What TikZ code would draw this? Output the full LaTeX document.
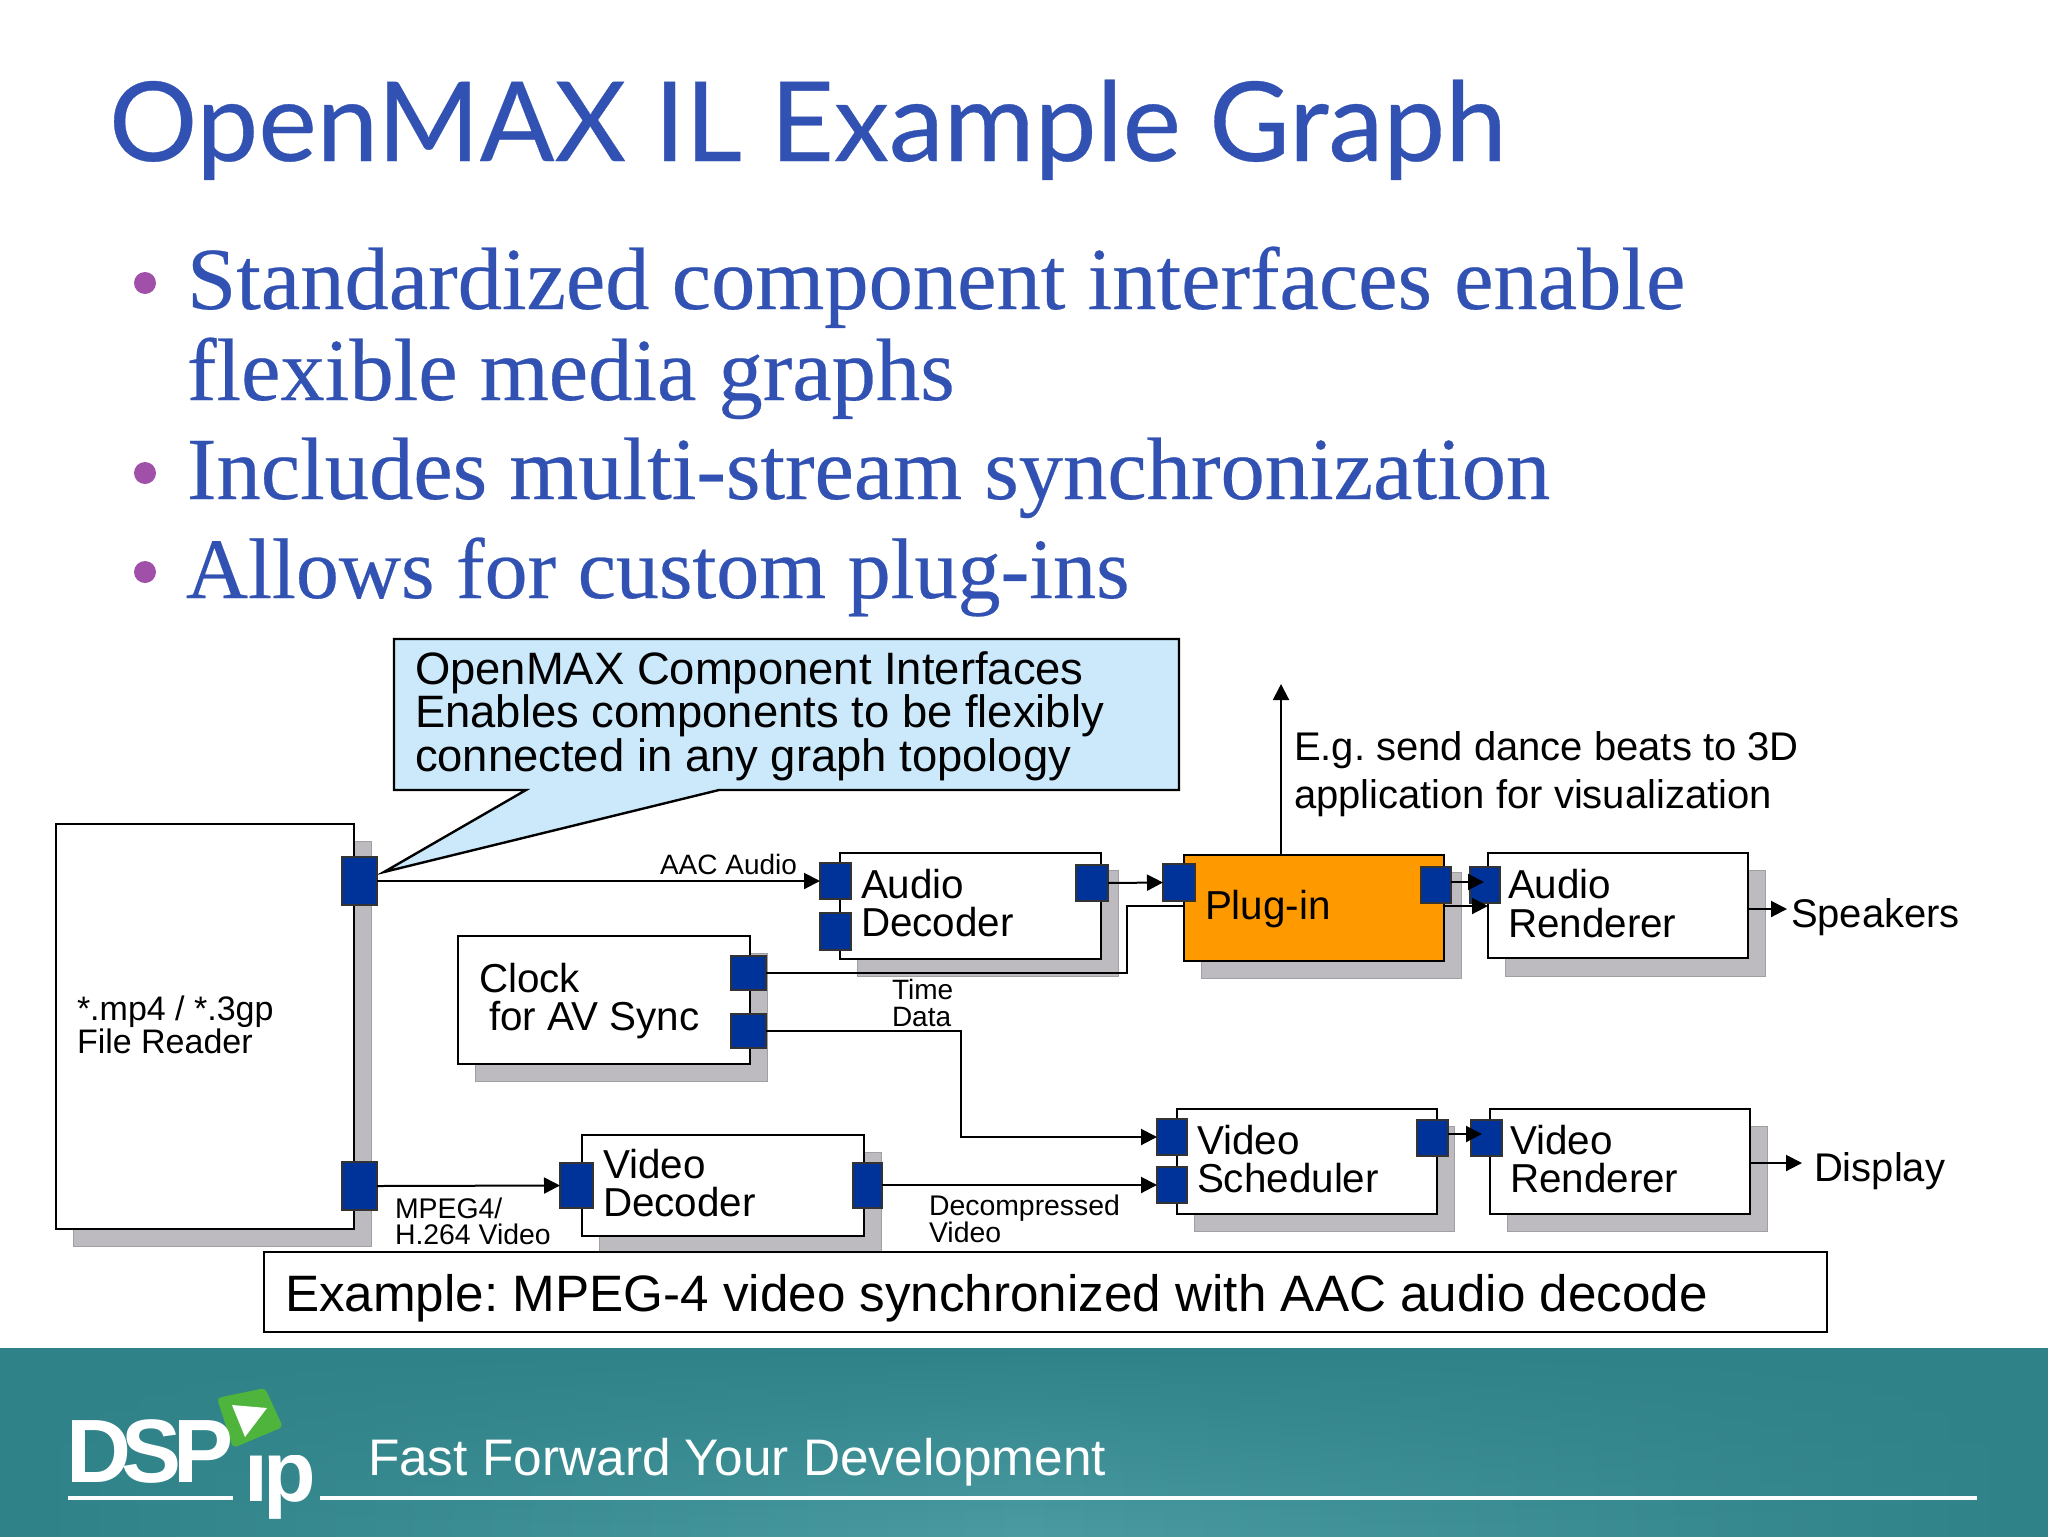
\documentclass[tikz,border=0pt]{standalone}
\usepackage{fontspec}
\usetikzlibrary{arrows.meta,fadings}
\setmainfont{Liberation Sans}
\newfontfamily\titlefont[FakeBold=0.3]{Lato}
\newfontfamily\bodyfont[FakeBold=0.3]{Liberation Serif}
\definecolor{titleblue}{HTML}{3152B2}
\definecolor{bulletpurple}{HTML}{A050A8}
\definecolor{shadowgray}{HTML}{BDBBBF}
\definecolor{portblue}{HTML}{003399}
\definecolor{plugorange}{HTML}{FF9900}
\definecolor{calloutblue}{HTML}{CCE9FB}
\definecolor{teala}{HTML}{2F8287}
\definecolor{tealb}{HTML}{4A9CA2}
\definecolor{logogreen}{HTML}{4FB43C}
\newcommand\fsz[2]{\fontsize{#1}{#2}\selectfont\frenchspacing}
% rectangle node by pixel corners
\newcommand\pxbox[6]{\node[#2,anchor=north west,minimum width={(#5-#3)*0.5pt},minimum height={(#6-#4)*0.5pt}] (#1) at (#3,#4) {};}
% text node: name, x, last-line baseline y, size(pt), leading(pt), text
\newcommand\lbl[6]{\node[txt,font=\fsz{#4}{#5}] (#1) at (#2,#3) {#6};}
\tikzset{
  x=0.5pt,y=-0.5pt,
  txt/.style={anchor=base west,inner sep=0pt,outer sep=0pt,align=left},
  rectb/.style={inner sep=0pt,outer sep=0pt},
  shadowbox/.style={rectb,fill=shadowgray,draw=shadowgray!85!black,line width=0.5pt},
  compbox/.style={rectb,fill=white,draw=black,line width=1.2pt},
  plugbox/.style={rectb,fill=plugorange,draw=black,line width=1.2pt},
  portbox/.style={rectb,fill=portblue,draw=black!80,line width=1pt},
  conn/.style={draw=black,line width=1pt},
  flow/.style={conn,-{Triangle[length=8pt,width=8pt]}},
}
\begin{document}
\begin{tikzpicture}
\useasboundingbox (0,0) rectangle (2048,1536);
\fill[white] (0,0) rectangle (2048,1536);
% title and bullets
\node[txt,font=\titlefont\fsz{55.2}{56},text=titleblue] (title) at (109,161) {OpenMAX IL Example Graph};
\foreach \n/\yy in {a/283,b/473,c/572}{\fill[bulletpurple] (145,\yy) circle (11);}
\node[txt,font=\bodyfont\fsz{44.3}{45.5},text=titleblue] (b1) at (187,400) {Standardized component interfaces enable\\flexible media graphs};
\node[txt,font=\bodyfont\fsz{44.3}{45},text=titleblue] (b2) at (187,499) {Includes multi-stream synchronization};
\node[txt,font=\bodyfont\fsz{43}{45},text=titleblue] (b3) at (186,598) {Allows for custom plug-ins};
% footer
\path[left color=teala,right color=teala,middle color=tealb] (0,1348) rectangle (2048,1536);
\fill[teala,path fading=south] (0,1348) rectangle (2048,1536);
\fill[white] (68,1496) rectangle (233,1500);
\fill[white] (320,1496) rectangle (1977,1500);
\fill[logogreen,rounded corners=2pt] (217,1398) -- (265,1388) -- (283,1427) -- (233,1448) -- cycle;
\fill[white] (232,1405) -- (267,1408) -- (245,1437) -- cycle;
\node[txt,text=white,font=\bfseries\fsz{45}{45}] (logodsp) at (66,1482) {D\kern-4.5pt S\kern-4.5pt P};
\begin{scope}
\clip (240,1455) rectangle (330,1530);
\node[txt,text=white,font=\bfseries\fsz{43}{43}] (logoip) at (244,1501) {i\kern-2pt p};
\end{scope}
\node[txt,text=white,font=\fsz{25.7}{26}] (slogan) at (368,1475) {Fast Forward Your Development};
% shadows
\pxbox{sfr}{shadowbox}{73}{841}{371}{1246}
\pxbox{sad}{shadowbox}{857}{870}{1118}{976}
\pxbox{sck}{shadowbox}{475}{953}{767}{1081}
\pxbox{svd}{shadowbox}{599}{1152}{881}{1252}
\pxbox{spl}{shadowbox}{1201}{872}{1461}{978}
\pxbox{sar}{shadowbox}{1505}{870}{1765}{976}
\pxbox{svs}{shadowbox}{1194}{1126}{1454}{1231}
\pxbox{svr}{shadowbox}{1507}{1126}{1767}{1231}
% components
\pxbox{fr}{compbox}{56}{824}{354}{1229}
\pxbox{ad}{compbox}{840}{853}{1101}{959}
\pxbox{ck}{compbox}{458}{936}{750}{1064}
\pxbox{vd}{compbox}{582}{1135}{864}{1236}
\pxbox{pl}{plugbox}{1184}{855}{1444}{961}
\pxbox{ar}{compbox}{1488}{853}{1748}{958}
\pxbox{vs}{compbox}{1177}{1109}{1437}{1214}
\pxbox{vr}{compbox}{1490}{1109}{1750}{1214}
% example box
\pxbox{ex}{compbox}{264}{1252}{1827}{1332}
% callout
\draw[fill=calloutblue,draw=black,line width=1.2pt] (394,639) -- (1179,639) -- (1179,790) -- (719,790) -- (384,872) -- (526,790) -- (394,790) -- cycle;
% ports
\pxbox{frt}{portbox}{342}{857}{377}{905}
\pxbox{frb}{portbox}{342}{1162}{377}{1210}
\pxbox{ada}{portbox}{820}{863}{851}{899}
\pxbox{adb}{portbox}{820}{913}{851}{950}
\pxbox{ado}{portbox}{1076}{865}{1108}{901}
\pxbox{cka}{portbox}{731}{956}{766}{990}
\pxbox{ckb}{portbox}{731}{1014}{766}{1048}
\pxbox{vdi}{portbox}{560}{1163}{593}{1208}
\pxbox{vdo}{portbox}{853}{1163}{882}{1208}
\pxbox{pli}{portbox}{1163}{864}{1195}{901}
\pxbox{plo}{portbox}{1421}{867}{1451}{903}
\pxbox{ari}{portbox}{1470}{867}{1500}{903}
\pxbox{vsa}{portbox}{1157}{1119}{1187}{1155}
\pxbox{vsb}{portbox}{1157}{1167}{1187}{1203}
\pxbox{vso}{portbox}{1417}{1120}{1448}{1156}
\pxbox{vri}{portbox}{1471}{1120}{1502}{1156}
% free ends and bends
\coordinate (plugup) at (1281,684);
\coordinate (plugtop) at (1281,855);
\coordinate (speak) at (1787,909);
\coordinate (arout) at (1748,909);
\coordinate (disp) at (1802,1163);
\coordinate (vrout) at (1750,1163);
\coordinate (clockbend) at (1127,906);
\coordinate (databend) at (961,1137);
\coordinate (pltip) at (1484,882);
\coordinate (plfrom) at (1451,882);
\coordinate (pl2from) at (1444,906);
\coordinate (pl2tip) at (1488,906);
\coordinate (vsfrom) at (1448,1134);
\coordinate (vstip) at (1482,1134);
\coordinate (ddfrom) at (882,1185);
\coordinate (ddto) at (1157,1185);
% connectors
\draw[flow] (frt.east) -- (ada.west);
\draw[flow] (frb.east) -- (vdi.west);
\draw[flow] (ado.east) -- (pli.west);
\draw[flow] (ddfrom) -- (ddto);
\draw[conn] (cka.east) -| (clockbend) -- (clockbend -| pl.west);
\draw[flow] (ckb.east) -| (databend) -- (vsa.west |- databend);
\draw[flow] (plugtop) -- (plugup);
\draw[flow] (plfrom) -- (pltip);
\draw[flow] (pl2from) -- (pl2tip);
\draw[flow] (vsfrom) -- (vstip);
\draw[flow] (arout) -- (speak);
\draw[flow] (vrout) -- (disp);
% diagram text
\lbl{tfr}{77}{1053}{17}{16.5}{*.mp4 / *.3gp\\File Reader}
\lbl{tad}{861}{936}{20.2}{19}{Audio\\Decoder}
\lbl{tck}{479}{1030}{20.2}{19}{Clock\\\hspace*{5pt}for AV Sync}
\lbl{tvd}{603}{1216}{20.2}{19}{Video\\Decoder}
\lbl{tpl}{1205}{919}{20.2}{19}{Plug-in}
\lbl{tar}{1508}{937}{20.2}{19.5}{Audio\\Renderer}
\lbl{tvs}{1197}{1192}{20.2}{19}{Video\\Scheduler}
\lbl{tvr}{1510}{1192}{20.2}{19}{Video\\Renderer}
\lbl{tsp}{1791}{927}{20}{20}{Speakers}
\lbl{tdi}{1814}{1181}{20}{20}{Display}
\lbl{taac}{660}{874}{14}{14}{AAC Audio}
\lbl{tmp}{395}{1244}{14.2}{13}{MPEG4/\\H.264 Video}
\lbl{ttd}{892}{1026}{14}{13.5}{Time\\Data}
\lbl{tdv}{929}{1242}{14.2}{13.5}{Decompressed\\Video}
\lbl{teg}{1294}{808}{20}{24}{E.g. send dance beats to 3D\\application for visualization}
\lbl{tco}{415}{771}{22.7}{21.7}{OpenMAX Component Interfaces\\Enables components to be flexibly\\connected in any graph topology}
\lbl{tex}{285}{1311}{25.6}{26}{Example: MPEG-4 video synchronized with AAC audio decode}
\end{tikzpicture}
\end{document}
